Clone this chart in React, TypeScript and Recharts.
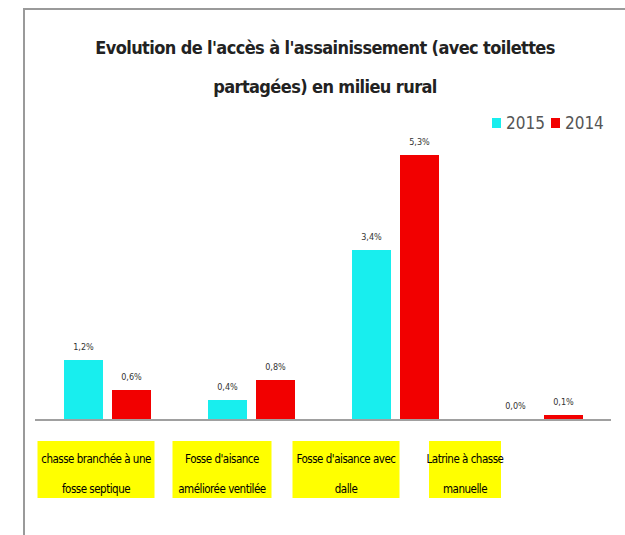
import { BarChart, Bar, XAxis, YAxis, LabelList } from "recharts"

const categories = [
  ["chasse branchée à une", "fosse septique"],
  ["Fosse d'aisance", "améliorée ventilée"],
  ["Fosse d'aisance avec", "dalle"],
  ["Latrine à chasse", "manuelle"],
]
const values2015 = [1.2, 0.4, 3.4, 0.0]
const values2014 = [0.6, 0.8, 5.3, 0.1]
const seriesNames = ["2015", "2014"]
const seriesColors = ["#18eeee", "#f20000"]

const data = categories.map((c, i) => ({
  name: c.join(" "),
  y2015: values2015[i],
  y2014: values2014[i],
}))

// the yellow label boxes sit off-centre in the original picture
const boxes = [
  { dx: -11, w: 117 },
  { dx: -29, w: 99 },
  { dx: -49, w: 107 },
  { dx: -74, w: 72 },
]

const font = "'DejaVu Sans Condensed', 'Liberation Sans', sans-serif"

const CatTick = (props: any) => {
  const { x, y, index } = props
  const b = boxes[index] || { dx: 0, w: 100 }
  const cx = x + b.dx
  const lines = categories[index] || []
  return (
    <g>
      <rect x={cx - b.w / 2} y={y + 13} width={b.w} height={57} fill="#ffff00" />
      {lines.map((l, k) => (
        <text
          key={k}
          x={cx}
          y={y + 35 + k * 30}
          textAnchor="middle"
          fontSize={11.5}
          letterSpacing={-0.5}
          fontFamily={font}
          fill="#000"
        >
          {l}
        </text>
      ))}
    </g>
  )
}

const fmt = (v: any) => Number(v).toFixed(1).replace(".", ",") + "%"

export default function App() {
  return (
    <div style={{ position: "absolute", left: 0, top: 0, width: 625, height: 535, background: "#fff", overflow: "hidden" }}>
      <div
        style={{
          position: "absolute",
          left: 23,
          top: 8,
          width: 640,
          height: 560,
          border: "2px solid #9a9a9a",
        }}
      />
      <div
        style={{
          position: "absolute",
          left: 0,
          top: 28,
          width: 650,
          textAlign: "center",
          fontFamily: font,
          fontWeight: "bold",
          fontSize: 18,
          letterSpacing: -0.6,
          lineHeight: "39px",
          color: "#222",
        }}
      >
        Evolution de l'accès à l'assainissement (avec toilettes
        <br />
        partagées) en milieu rural
      </div>
      <div
        style={{
          position: "absolute",
          left: 492,
          top: 113,
          display: "flex",
          alignItems: "center",
          fontFamily: font,
          fontSize: 17,
          color: "#555",
        }}
      >
        {seriesNames.map((n, i) => (
          <span key={n} style={{ display: "flex", alignItems: "center", marginRight: 6 }}>
            <span style={{ width: 9, height: 10, background: seriesColors[i], marginRight: 5 }} />
            {n}
          </span>
        ))}
      </div>
      <BarChart
        width={625}
        height={535}
        data={data}
        margin={{ top: 140, right: 14, left: 35, bottom: 0 }}
        barSize={39}
        barGap={9}
        style={{ position: "absolute", left: 0, top: 0 }}
      >
        <XAxis
          dataKey="name"
          height={115}
          axisLine={{ stroke: "#a0a0a0", strokeWidth: 2 }}
          tickLine={false}
          interval={0}
          tick={<CatTick />}
        />
        <YAxis hide domain={[0, 5.6]} />
        <Bar dataKey="y2015" name={seriesNames[0]} fill={seriesColors[0]} minPointSize={1} isAnimationActive={false}>
          <LabelList dataKey="y2015" position="top" offset={10} formatter={fmt} fontSize={9} fontFamily={font} fill="#333" />
        </Bar>
        <Bar dataKey="y2014" name={seriesNames[1]} fill={seriesColors[1]} isAnimationActive={false}>
          <LabelList dataKey="y2014" position="top" offset={10} formatter={fmt} fontSize={9} fontFamily={font} fill="#333" />
        </Bar>
      </BarChart>
    </div>
  )
}
